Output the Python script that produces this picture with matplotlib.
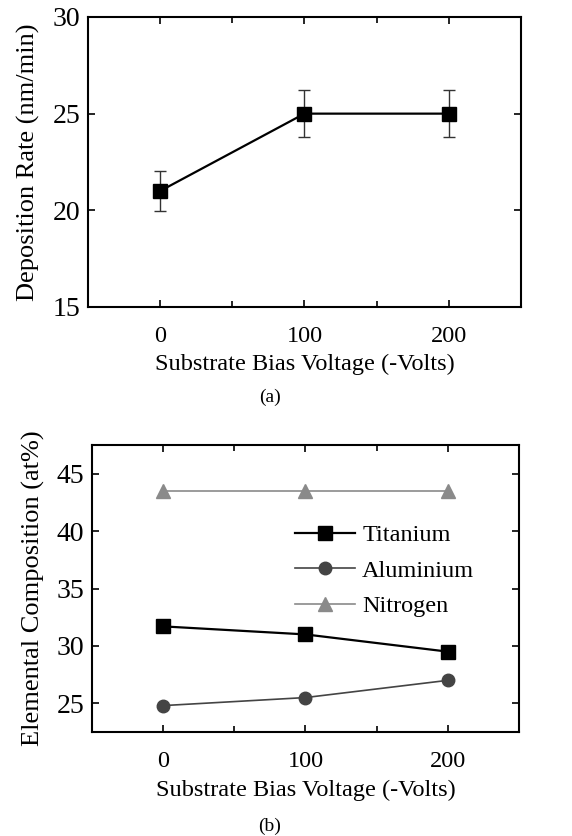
import matplotlib
matplotlib.use("Agg")
import matplotlib.pyplot as plt
from matplotlib.ticker import MultipleLocator

# (a) deposition rate vs bias
bias = [0, 100, 200]
dep_rate = [21.0, 25.0, 25.0]
dep_err = [1.05, 1.23, 1.23]

# (b) elemental composition vs bias
titanium = [31.7, 31.0, 29.5]
aluminium = [24.8, 25.5, 27.0]
nitrogen = [43.5, 43.5, 43.5]

plt.rcParams['font.family'] = ['Liberation Serif', 'DejaVu Serif']
plt.rcParams['font.size'] = 17.5


def style_axes(ax):
    for s in ax.spines.values():
        s.set_linewidth(1.5)
    ax.tick_params(which='both', direction='in', top=True, right=True,
                   width=1.2)
    ax.tick_params(which='major', length=5)
    ax.tick_params(which='minor', length=4)
    ax.tick_params(axis='x', pad=14, labelsize=17.5)
    ax.tick_params(axis='y', pad=5.5, labelsize=20)
    ax.set_xlim(-50, 250)
    ax.set_xticks(bias)
    ax.xaxis.set_minor_locator(MultipleLocator(50))


fig = plt.figure(figsize=(5.72, 8.36), dpi=100)

ax1 = fig.add_axes([0.1538, 0.6328, 0.757, 0.3469])
ax1.errorbar(bias, dep_rate, yerr=dep_err, color='black', marker='s',
             markersize=10, linewidth=1.6, ecolor='#333333', elinewidth=1.0,
             capsize=4, capthick=1.0)
style_axes(ax1)
ax1.set_ylim(15, 30)
ax1.set_yticks([15, 20, 25, 30])
ax1.set_xlabel('Substrate Bias Voltage (-Volts)', labelpad=4.5)
ax1.set_ylabel('Deposition Rate (nm/min)', fontsize=19, labelpad=9)
fig.text(0.472, 0.525, '(a)', ha='center', va='center', fontsize=14)

ax2 = fig.add_axes([0.1608, 0.1244, 0.7465, 0.3433])
ax2.plot(bias, titanium, color='black', marker='s', markersize=9.5,
         linewidth=1.6, label='Titanium')
ax2.plot(bias, aluminium, color='#444444', marker='o', markersize=9,
         linewidth=1.2, label='Aluminium')
ax2.plot(bias, nitrogen, color='#8a8a8a', marker='^', markersize=10,
         linewidth=1.2, label='Nitrogen')
style_axes(ax2)
ax2.set_ylim(22.5, 47.5)
ax2.set_yticks([25, 30, 35, 40, 45])
ax2.set_xlabel('Substrate Bias Voltage (-Volts)', labelpad=5)
ax2.set_ylabel('Elemental Composition (at%)', fontsize=19, labelpad=8)
ax2.legend(loc='upper left', bbox_to_anchor=(0.424, 0.80), frameon=False,
           fontsize=17.5, handlelength=2.47, handletextpad=0.3,
           labelspacing=0.55)
fig.text(0.472, 0.011, '(b)', ha='center', va='center', fontsize=14)

fig.savefig('out.png', dpi=100)
